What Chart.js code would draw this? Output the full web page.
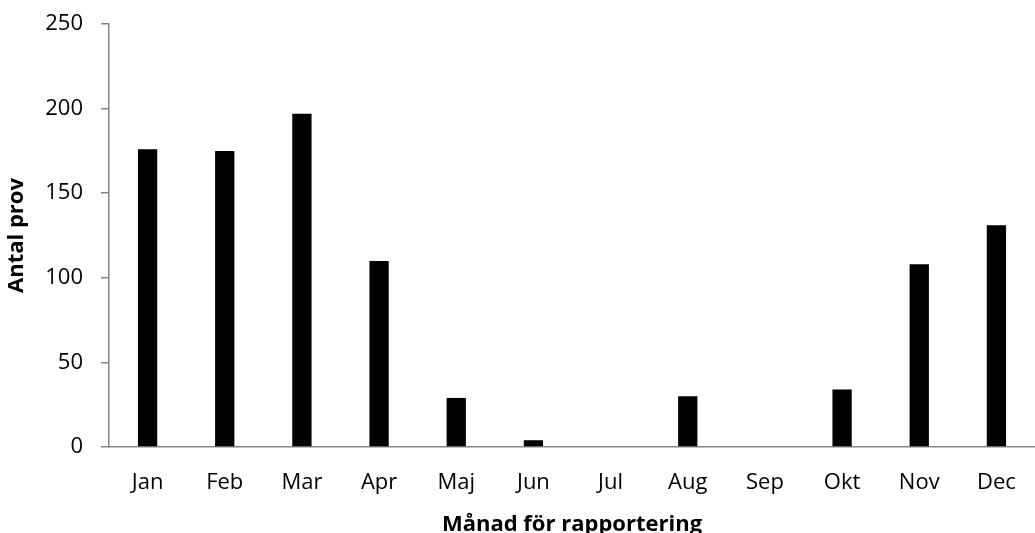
<!DOCTYPE html>
<html>
<head>
<meta charset="utf-8">
<script src="https://cdn.jsdelivr.net/npm/chart.js@4/dist/chart.umd.min.js"></script>
<style>
  html, body { margin: 0; padding: 0; background: #fff; }
  #wrap { width: 1035px; height: 533px; }
</style>
</head>
<body>
<div id="wrap"><canvas id="chart"></canvas></div>
<script>
const months = ['Jan', 'Feb', 'Mar', 'Apr', 'Maj', 'Jun', 'Jul', 'Aug', 'Sep', 'Okt', 'Nov', 'Dec'];
const antalProv = [176, 175, 197, 110, 29, 4, 0, 30, 0, 34, 108, 131];
const yTicks = [0, 50, 100, 150, 200, 250];

const axisGrey = '#868686';
const font = { family: '"Open Sans", sans-serif', size: 22 };

document.addEventListener('DOMContentLoaded', () => {
  const ctx = document.getElementById('chart').getContext('2d');
  new Chart(ctx, {
    type: 'bar',
    data: {
      labels: months,
      datasets: [{
        label: 'Antal prov',
        data: antalProv,
        backgroundColor: '#000',
        borderWidth: 0,
        barPercentage: 0.25,
        categoryPercentage: 1
      }]
    },
    options: {
      responsive: true,
      maintainAspectRatio: false,
      animation: false,
      layout: { padding: { top: 24, right: 0, bottom: 0, left: 0 } },
      plugins: {
        legend: { display: false },
        tooltip: { enabled: false }
      },
      scales: {
        x: {
          grid: { display: false, drawTicks: false },
          border: { display: true, color: axisGrey, width: 1.5 },
          ticks: { color: '#000', font, padding: 23, maxRotation: 0 },
          title: {
            display: true,
            text: 'Månad för rapportering',
            color: '#000',
            font: { ...font, weight: 'bold' },
            padding: { top: 0, bottom: -5 }
          },
          afterFit: scale => {
            scale.height = 86;
            scale.paddingLeft = 0;
            scale.paddingRight = 0;
          }
        },
        y: {
          min: 0,
          max: 250,
          afterBuildTicks: scale => { scale.ticks = yTicks.map(v => ({ value: v })); },
          grid: {
            display: true,
            drawOnChartArea: false,
            drawTicks: true,
            tickLength: 8,
            color: axisGrey,
            lineWidth: 1.5
          },
          border: { display: true, color: axisGrey, width: 1.5 },
          ticks: { color: '#000', font, padding: 18 },
          title: {
            display: true,
            text: 'Antal prov',
            color: '#000',
            font: { ...font, weight: 'bold' },
            padding: { top: 4, bottom: 0 }
          },
          afterFit: scale => {
            scale.width = 109;
            scale.paddingTop = 0;
            scale.paddingBottom = 0;
          }
        }
      }
    }
  });
});
</script>
</body>
</html>
